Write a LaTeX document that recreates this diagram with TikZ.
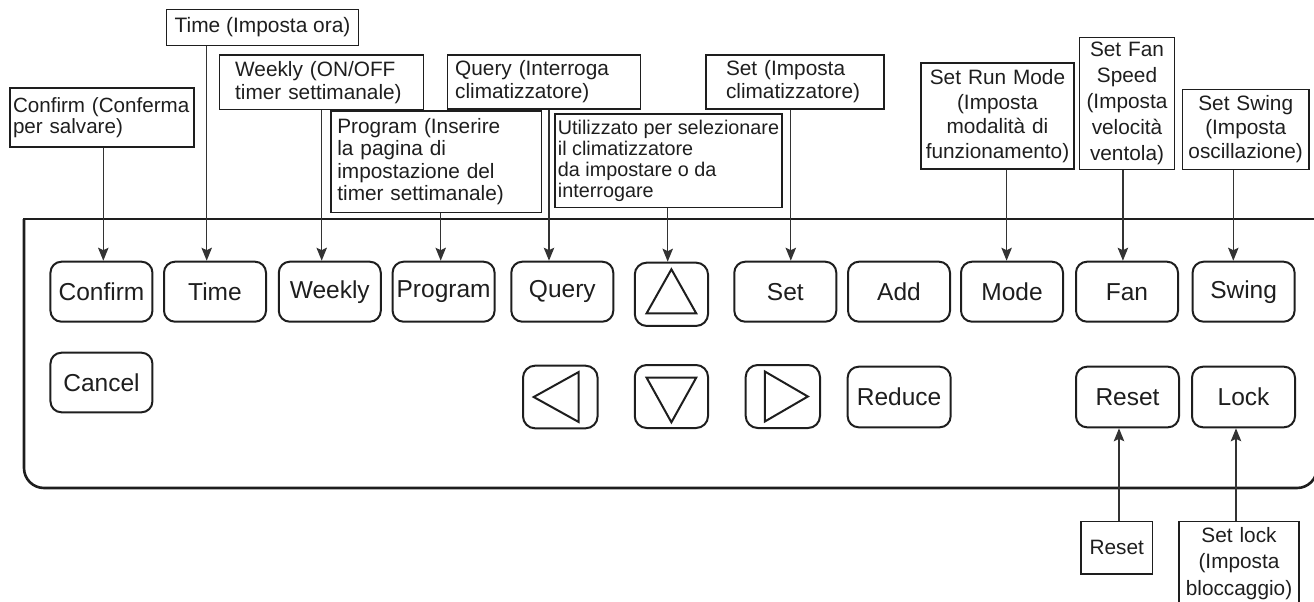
\documentclass[tikz,border=0pt]{standalone}
\usepackage{fontspec}
\setmainfont{Liberation Sans}
\usetikzlibrary{arrows.meta,calc}
\definecolor{ink}{HTML}{1E1E1E}
\definecolor{connc}{HTML}{333333}
\newcommand\myfs[2]{\fontsize{#1}{#2}\selectfont\hyphenpenalty=10000\exhyphenpenalty=10000}
\begin{document}
\begin{tikzpicture}[x=1pt,y=-1pt,
  callout/.style={draw=ink, line width=1.1pt, inner sep=0pt, text=ink},
  btn/.style={draw=ink, line width=2pt, rounded corners=11pt, inner sep=0pt, minimum width=102pt, minimum height=60pt, font=\myfs{24.5}{28}, text=ink},
  arrbtn/.style={draw=ink, line width=2pt, rounded corners=12pt, inner sep=0pt, minimum width=74pt, minimum height=63pt},
  tri/.style={draw=ink, line width=2pt, line join=miter},
  conn/.style={draw=connc, line width=1.2pt, -{Stealth[length=13pt,width=10.5pt,inset=2.5pt]}},
  panel/.style={draw=ink, line width=2.6pt}
]
\useasboundingbox (0,0) rectangle (1314,602);

% panel
\draw[panel, line cap=rect] (24,219) -- (1317,219);
\draw[panel, rounded corners=20pt] (24,219) -- (24,488) -- (1317,488) -- (1317,219);

% callouts
\node[callout, minimum width=184pt, minimum height=59pt, text width=178pt, align=left, font=\myfs{20.6}{21}] (cConfirm) at (102,117.5) {Confirm (Conferma\\per salvare)};
\node[callout, minimum width=191.6pt, minimum height=36.4pt, font=\myfs{20.9}{24}] (cTime) at (262.5,27.5) {Time (Imposta ora)};
\node[callout, minimum width=204.3pt, minimum height=54.3pt, text width=172pt, align=left, font=\myfs{20.8}{23}] (cWeekly) at (321.2,82.2) {Weekly (ON/OFF\\timer settimanale)};
\node[callout, minimum width=210.7pt, minimum height=101.7pt, text width=198pt, align=left, font=\myfs{20.8}{22.5}] (cProgram) at (436.35,161.85) {Program (Inserire\\la pagina di\\impostazione del\\timer settimanale)};
\node[callout, minimum width=193pt, minimum height=54pt, text width=178pt, align=left, font=\myfs{20.8}{23}] (cQuery) at (544.2,82) {Query (Interroga\\climatizzatore)};
\node[callout, minimum width=227pt, minimum height=93.5pt, align=left, font=\myfs{19.8}{21}] (cUtil) at (668.5,160.75) {Utilizzato per selezionare\\il climatizzatore\\da impostare o da\\interrogare};
\node[callout, minimum width=178pt, minimum height=54pt, text width=138pt, align=left, font=\myfs{20.8}{23}] (cSet) at (795,82) {Set (Imposta\\climatizzatore)};
\node[callout, minimum width=153pt, minimum height=106pt, text width=150pt, align=center, font=\myfs{20.8}{24.5}] (cMode) at (997.5,116) {Set Run Mode\\(Imposta\\modalità di\\funzionamento)};
\node[callout, minimum width=95pt, minimum height=131.7pt, text width=92pt, align=center, font=\myfs{20.8}{26}] (cFan) at (1127,103.2) {Set Fan\\Speed\\(Imposta\\velocità\\ventola)};
\node[callout, minimum width=126.6pt, minimum height=79.7pt, text width=122pt, align=center, font=\myfs{20.8}{24}] (cSwing) at (1245.7,129.2) {Set Swing\\(Imposta\\oscillazione)};
\node[callout, minimum width=71.5pt, minimum height=52.3pt, font=\myfs{20.8}{24}] (cReset) at (1116.75,547.85) {Reset};
\node[callout, minimum width=120pt, minimum height=83.2pt, text width=116pt, align=center, font=\myfs{20.8}{26.5}] (cLock) at (1239,563.3) {Set lock\\(Imposta\\bloccaggio)};

% buttons row 1
\node[btn] (bConfirm) at (101.45,291.7) {Confirm};
\node[btn] (bTime) at (215,291.7) {Time};
\node[btn] (bWeekly) at (329.8,291.7) {Weekly};
\node[btn] (bProgram) at (443.6,291.7) {Program};
\node[btn] (bQuery) at (562.3,291.7) {Query};
\node[arrbtn, minimum width=73.3pt, minimum height=63.3pt] (bUp) at (671.4,294.3) {};
\node[btn] (bSet) at (785.3,291.7) {Set};
\node[btn] (bAdd) at (899,291.7) {Add};
\node[btn] (bMode) at (1012,291.7) {Mode};
\node[btn] (bFan) at (1127,291.7) {Fan};
\node[btn] (bSwing) at (1243.6,291.7) {Swing};

% buttons row 2
\node[btn, minimum height=59.6pt] (bCancel) at (101.45,382.5) {Cancel};
\node[arrbtn, minimum width=74.6pt, minimum height=62.6pt] (bLeft) at (560.3,397) {};
\node[arrbtn, minimum width=73.3pt, minimum height=63pt] (bDown) at (671.4,396.5) {};
\node[arrbtn, minimum width=74.3pt, minimum height=63pt] (bRight) at (782.85,396.5) {};
\node[btn, minimum width=103pt, minimum height=60.6pt] (bReduce) at (899.15,397) {Reduce};
\node[btn, minimum width=103pt, minimum height=60.6pt] (bReset) at (1127.5,397) {Reset};
\node[btn, minimum width=103pt, minimum height=60.6pt] (bLock) at (1243.5,397) {Lock};

% triangles
\draw[tri] ($(bUp)+(0,-25)$) -- ($(bUp)+(-24.8,19)$) -- ($(bUp)+(24.8,19)$) -- cycle;
\draw[tri] ($(bDown)+(0,25.8)$) -- ($(bDown)+(-24.8,-18.8)$) -- ($(bDown)+(24.8,-18.8)$) -- cycle;
\draw[tri] ($(bLeft)+(-26.6,0)$) -- ($(bLeft)+(18.4,-25)$) -- ($(bLeft)+(18.4,25)$) -- cycle;
\draw[tri] ($(bRight)+(25,0)$) -- ($(bRight)+(-18,-25)$) -- ($(bRight)+(-18,25)$) -- cycle;

% connectors
\draw[conn] (103.3,0 |- cConfirm.south) -- (103.3,0 |- bConfirm.north);
\draw[conn] (206.7,0 |- cTime.south) -- (206.7,0 |- bTime.north);
\draw[conn] (321.7,0 |- cWeekly.south) -- (321.7,0 |- bWeekly.north);
\draw[conn] (440.7,0 |- cProgram.south) -- (440.7,0 |- bProgram.north);
\draw[conn] (549,0 |- cQuery.south) -- (549,0 |- bQuery.north);
\draw[conn] (667.7,0 |- cUtil.south) -- (667.7,0 |- bUp.north);
\draw[conn] (790.8,0 |- cSet.south) -- (790.8,0 |- bSet.north);
\draw[conn] (1006.6,0 |- cMode.south) -- (1006.6,0 |- bMode.north);
\draw[conn] (1122.9,0 |- cFan.south) -- (1122.9,0 |- bFan.north);
\draw[conn] (1233.3,0 |- cSwing.south) -- (1233.3,0 |- bSwing.north);
\draw[conn] (1119,0 |- cReset.north) -- (1119,0 |- bReset.south);
\draw[conn] (1236,0 |- cLock.north) -- (1236,0 |- bLock.south);
\end{tikzpicture}
\end{document}
